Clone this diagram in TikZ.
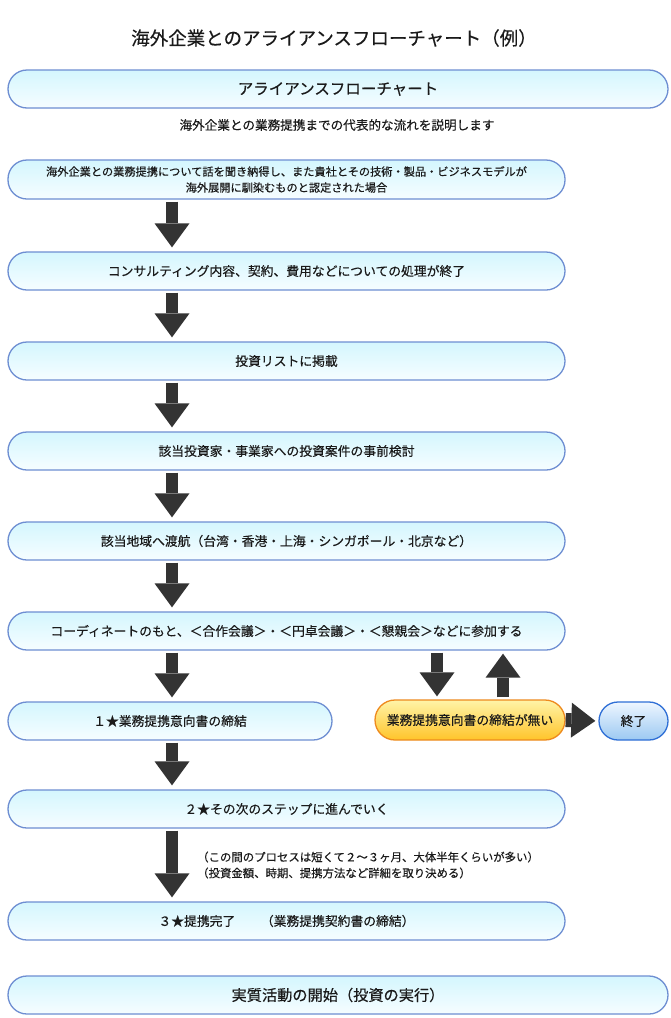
\documentclass[tikz,border=0pt]{standalone}
\usepackage{fontspec}
\setmainfont{Noto Sans CJK JP}[FakeBold=0.35]
\usetikzlibrary{arrows.meta}
\definecolor{bline}{HTML}{6E8ED2}
\definecolor{btop}{HTML}{D4F6FE}
\definecolor{bbot}{HTML}{F6FDFF}
\definecolor{oline}{HTML}{EE8A1E}
\definecolor{otop}{HTML}{FFF4A8}
\definecolor{obot}{HTML}{FFC42A}
\definecolor{eline}{HTML}{2F6FD6}
\definecolor{etop}{HTML}{EEF6FF}
\definecolor{ebot}{HTML}{9CC9F2}
\definecolor{arr}{HTML}{333333}
\definecolor{txt}{HTML}{1A1A1A}
\begin{document}
\begin{tikzpicture}[x=1pt,y=-1pt,
  pill/.style={draw=bline, line width=1.3pt, top color=btop, bottom color=bbot,
    rounded corners=19pt, minimum height=38pt, inner sep=0pt, align=center,
    text=txt, font=\fontsize{12.8}{16}\selectfont},
  opill/.style={pill, draw=oline, top color=otop, bottom color=obot, rounded corners=20pt, minimum height=40pt},
  epill/.style={pill, draw=eline, top color=etop, bottom color=ebot},
  plain/.style={inner sep=0pt, text=txt},
  bigarrow/.style={draw=arr, line width=12pt, -{Triangle[width=35pt,length=24pt,line width=0pt]},
    shorten <=2pt, shorten >=4pt}]
\useasboundingbox (0,0) rectangle (670,1018);
\fill[white] (0,0) rectangle (670,1018);

\node[plain, font=\fontsize{18.5}{22}\selectfont] (title) at (334,38) {海外企業とのアライアンスフローチャート（例）};
\node[pill, minimum width=660pt, font=\fontsize{15.5}{18}\selectfont] (top) at (338,89) {アライアンスフローチャート};
\node[plain, font=\fontsize{12.6}{15}\selectfont] (sub) at (337,125) {海外企業との業務提携までの代表的な流れを説明します};

\node[pill, minimum width=557pt, minimum height=39pt, font=\fontsize{11.2}{16}\selectfont] (b1) at (286.5,179.5)
  {海外企業との業務提携について話を聞き納得し、また貴社とその技術・製品・ビジネスモデルが\\海外展開に馴染むものと認定された場合};
\node[pill, minimum width=557pt] (b2) at (286.5,271) {コンサルティング内容、契約、費用などについての処理が終了};
\node[pill, minimum width=557pt] (b3) at (286.5,361) {投資リストに掲載};
\node[pill, minimum width=557pt] (b4) at (286.5,451) {該当投資家・事業家への投資案件の事前検討};
\node[pill, minimum width=557pt] (b5) at (286.5,541) {該当地域へ渡航（台湾・香港・上海・シンガポール・北京など）};
\node[pill, minimum width=557pt] (b6) at (286.5,631) {コーディネートのもと、＜合作会議＞・＜円卓会議＞・＜懇親会＞などに参加する};
\node[pill, minimum width=324pt] (b7) at (170,721) {１★業務提携意向書の締結};
\node[opill, minimum width=190pt] (no) at (470,720) {業務提携意向書の締結が無い};
\node[epill, minimum width=69pt] (end) at (633.5,721) {終了};
\node[pill, minimum width=557pt] (b8) at (286.5,809) {２★その次のステップに進んでいく};
\node[plain, anchor=west, align=left, font=\fontsize{11.4}{16}\selectfont] (note) at (197,865)
  {（この間のプロセスは短くて２～３ヶ月、大体半年くらいが多い）\\（投資金額、時期、提携方法など詳細を取り決める）};
\node[pill, minimum width=557pt] (b9) at (286.5,921) {３★提携完了　　（業務提携契約書の締結）};
\node[pill, minimum width=660pt, font=\fontsize{15.2}{18}\selectfont] (b10) at (338,995) {実質活動の開始（投資の実行）};

\coordinate (ax) at (172,0);
\coordinate (dx) at (437,0);
\coordinate (ux) at (503,0);

\draw[bigarrow] (b1.south -| ax) -- (b2.north -| ax);
\draw[bigarrow] (b2.south -| ax) -- (b3.north -| ax);
\draw[bigarrow] (b3.south -| ax) -- (b4.north -| ax);
\draw[bigarrow] (b4.south -| ax) -- (b5.north -| ax);
\draw[bigarrow] (b5.south -| ax) -- (b6.north -| ax);
\draw[bigarrow] (b6.south -| ax) -- (b7.north -| ax);
\draw[bigarrow] (b7.south -| ax) -- (b8.north -| ax);
\draw[bigarrow] (b8.south -| ax) -- (b9.north -| ax);
\draw[bigarrow, shorten >=3pt] (b6.south -| dx) -- (no.north -| dx);
\draw[bigarrow, shorten <=2pt, shorten >=3pt] (no.north -| ux) -- (b6.south -| ux);
\draw[bigarrow, line width=14pt, shorten <=0pt, shorten >=3pt] (no.east) -- (end.west);
\end{tikzpicture}
\end{document}
